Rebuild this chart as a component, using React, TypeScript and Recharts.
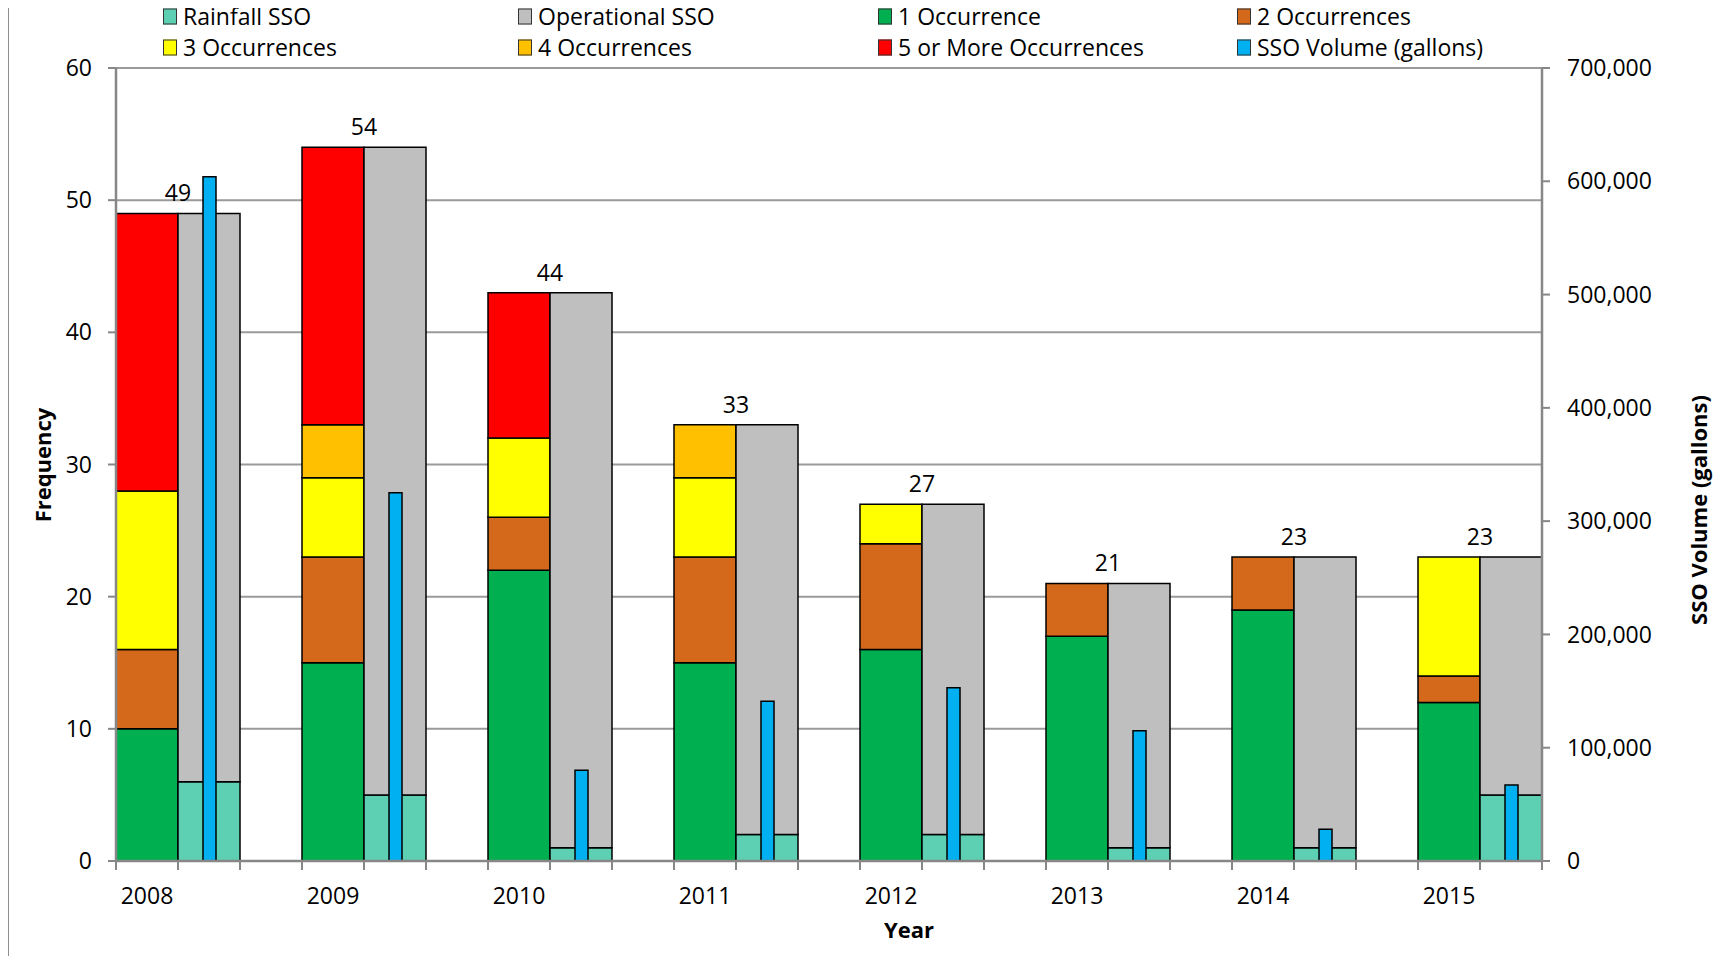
import React from 'react';
import { ComposedChart, Bar, XAxis, YAxis, CartesianGrid, LabelList } from 'recharts';

// values
const years = ['2008', '2009', '2010', '2011', '2012', '2013', '2014', '2015'];
const oneOccurrence = [10, 15, 22, 15, 16, 17, 19, 12];
const twoOccurrences = [6, 8, 4, 8, 8, 4, 4, 2];
const threeOccurrences = [12, 6, 6, 6, 3, 0, 0, 9];
const fourOccurrences = [0, 4, 0, 4, 0, 0, 0, 0];
const fivePlusOccurrences = [21, 21, 11, 0, 0, 0, 0, 0];
const rainfallSSO = [6, 5, 1, 2, 2, 1, 1, 5];
const operationalSSO = [43, 49, 42, 31, 25, 20, 22, 18];
const ssoVolume = [604000, 325000, 80000, 141000, 153000, 115000, 28000, 67000];
const totalLabels = [49, 54, 44, 33, 27, 21, 23, 23];

const leftTicks = [0, 10, 20, 30, 40, 50, 60];
const rightTicks = [0, 100000, 200000, 300000, 400000, 500000, 600000, 700000];

const COLORS = {
  rainfall: '#5DCFB2',
  operational: '#BFBFBF',
  one: '#00B050',
  two: '#D4691B',
  three: '#FFFF00',
  four: '#FFC000',
  five: '#FF0000',
  volume: '#00B0F0',
};

const legendItems = [
  { name: 'Rainfall SSO', color: COLORS.rainfall },
  { name: 'Operational SSO', color: COLORS.operational },
  { name: '1 Occurrence', color: COLORS.one },
  { name: '2 Occurrences', color: COLORS.two },
  { name: '3 Occurrences', color: COLORS.three },
  { name: '4 Occurrences', color: COLORS.four },
  { name: '5 or More Occurrences', color: COLORS.five },
  { name: 'SSO Volume (gallons)', color: COLORS.volume },
];

type Row = {
  slot: string;
  year?: string;
  one?: number;
  two?: number;
  three?: number;
  four?: number;
  five?: number;
  rainfall?: number;
  operational?: number;
  volume?: number;
  total?: number;
};

// each year takes three slots: occurrence stack, SSO stack, gap
const rows: Row[] = [];
years.forEach((year, i) => {
  rows.push({
    slot: `${year}-a`,
    year,
    one: oneOccurrence[i],
    two: twoOccurrences[i],
    three: threeOccurrences[i],
    four: fourOccurrences[i],
    five: fivePlusOccurrences[i],
  });
  rows.push({
    slot: `${year}-b`,
    rainfall: rainfallSSO[i],
    operational: operationalSSO[i],
    volume: ssoVolume[i],
    total: totalLabels[i],
  });
  if (i < years.length - 1) rows.push({ slot: `${year}-c` });
});

const FONT = "'Open Sans', sans-serif";
const W = 1729;
const H = 964;
const MARGIN = { top: 68, right: 27, bottom: 43, left: 8 };
const LEFT_AXIS_W = 108;
const RIGHT_AXIS_W = 160;
const X_AXIS_H = 60;
const PLOT_LEFT = MARGIN.left + LEFT_AXIS_W;
const PLOT_RIGHT = W - MARGIN.right - RIGHT_AXIS_W;
const PLOT_BOTTOM = H - MARGIN.bottom - X_AXIS_H;
const SLOT = (PLOT_RIGHT - PLOT_LEFT) / rows.length;
const AXIS_GREY = '#878787';
const GRID_GREY = '#9a9a9a';

const YearTick = (props: any) => {
  const { x, index } = props;
  const row = rows[index];
  const left = x - SLOT / 2;
  const isLast = index === rows.length - 1;
  return (
    <g>
      <line x1={left} x2={left} y1={PLOT_BOTTOM} y2={PLOT_BOTTOM + 9} stroke={AXIS_GREY} strokeWidth={2} />
      {isLast && (
        <line x1={x + SLOT / 2} x2={x + SLOT / 2} y1={PLOT_BOTTOM} y2={PLOT_BOTTOM + 9} stroke={AXIS_GREY} strokeWidth={2} />
      )}
      {row && row.year && (
        <text x={x} y={PLOT_BOTTOM + 34} textAnchor="middle" dominantBaseline="central" fontSize={23} fontFamily={FONT} fill="#000">
          {row.year}
        </text>
      )}
    </g>
  );
};

const TotalLabel = (props: any) => {
  const { x, y, value } = props;
  if (value == null) return null;
  return (
    <text x={x} y={y - 21} textAnchor="middle" dominantBaseline="central" fontSize={23} fontFamily={FONT} fill="#000">
      {value}
    </text>
  );
};

const legendCols = [163, 518, 878, 1237];
const legendRows = [16, 47];

const Legend = () => (
  <>
    {legendItems.map((item, i) => (
      <div
        key={item.name}
        style={{
          position: 'absolute',
          left: legendCols[i % 4],
          top: legendRows[Math.floor(i / 4)],
          transform: 'translateY(-50%)',
          display: 'flex',
          alignItems: 'center',
          fontFamily: FONT,
          fontSize: 23,
          lineHeight: 1,
          whiteSpace: 'nowrap',
          color: '#000',
        }}
      >
        <span
          style={{
            display: 'inline-block',
            width: 12,
            height: 14,
            background: item.color,
            border: '1px solid #333',
            marginRight: 6,
          }}
        />
        {item.name}
      </div>
    ))}
  </>
);

const stroke = { stroke: '#000', strokeWidth: 1.5 };

export default function App() {
  return (
    <div style={{ position: 'relative', width: W, height: H, margin: -8, background: '#fff', overflow: 'hidden' }}>
      <div style={{ position: 'absolute', left: 7, top: 0, width: 2, height: H, background: '#8f8f8f' }} />
      <ComposedChart
        width={W}
        height={H}
        data={rows}
        margin={MARGIN}
        barCategoryGap={0}
        barGap={0}
      >
        <CartesianGrid xAxisId="main" yAxisId="left" vertical={false} stroke={GRID_GREY} strokeWidth={2} />
        <XAxis
          xAxisId="main"
          dataKey="slot"
          interval={0}
          height={X_AXIS_H}
          tickLine={false}
          tick={<YearTick />}
          axisLine={{ stroke: AXIS_GREY, strokeWidth: 2.5 }}
        />
        <XAxis xAxisId="vol" dataKey="slot" hide />
        <YAxis
          yAxisId="left"
          width={LEFT_AXIS_W}
          domain={[0, 60]}
          ticks={leftTicks}
          interval={0}
          tickSize={8}
          tickMargin={16}
          tickLine={{ stroke: AXIS_GREY, strokeWidth: 2 }}
          axisLine={{ stroke: AXIS_GREY, strokeWidth: 2.5 }}
          tick={{ fill: '#000', fontSize: 23, fontFamily: FONT }}
        />
        <YAxis
          yAxisId="right"
          orientation="right"
          width={RIGHT_AXIS_W}
          domain={[0, 700000]}
          ticks={rightTicks}
          interval={0}
          tickSize={8}
          tickMargin={17}
          tickFormatter={(v: number) => v.toLocaleString('en-US')}
          tickLine={{ stroke: AXIS_GREY, strokeWidth: 2 }}
          axisLine={{ stroke: AXIS_GREY, strokeWidth: 2.5 }}
          tick={{ fill: '#000', fontSize: 23, fontFamily: FONT, textAnchor: 'start' }}
        />
        <Bar xAxisId="main" yAxisId="left" stackId="s" dataKey="one" fill={COLORS.one} {...stroke} isAnimationActive={false} />
        <Bar xAxisId="main" yAxisId="left" stackId="s" dataKey="two" fill={COLORS.two} {...stroke} isAnimationActive={false} />
        <Bar xAxisId="main" yAxisId="left" stackId="s" dataKey="three" fill={COLORS.three} {...stroke} isAnimationActive={false} />
        <Bar xAxisId="main" yAxisId="left" stackId="s" dataKey="four" fill={COLORS.four} {...stroke} isAnimationActive={false} />
        <Bar xAxisId="main" yAxisId="left" stackId="s" dataKey="five" fill={COLORS.five} {...stroke} isAnimationActive={false} />
        <Bar xAxisId="main" yAxisId="left" stackId="s" dataKey="rainfall" fill={COLORS.rainfall} {...stroke} isAnimationActive={false} />
        <Bar xAxisId="main" yAxisId="left" stackId="s" dataKey="operational" fill={COLORS.operational} {...stroke} isAnimationActive={false}>
          <LabelList dataKey="total" content={<TotalLabel />} />
        </Bar>
        <Bar xAxisId="vol" yAxisId="right" dataKey="volume" barSize={13} fill={COLORS.volume} {...stroke} isAnimationActive={false} />
      </ComposedChart>
      <Legend />
      <div
        style={{
          position: 'absolute',
          left: 42,
          top: 465,
          transform: 'translate(-50%, -50%) rotate(-90deg)',
          fontFamily: FONT,
          fontWeight: 700,
          fontSize: 22,
          whiteSpace: 'nowrap',
        }}
      >
        Frequency
      </div>
      <div
        style={{
          position: 'absolute',
          left: 1698,
          top: 510,
          transform: 'translate(-50%, -50%) rotate(-90deg)',
          fontFamily: FONT,
          fontWeight: 700,
          fontSize: 22,
          whiteSpace: 'nowrap',
        }}
      >
        SSO Volume (gallons)
      </div>
      <div
        style={{
          position: 'absolute',
          left: 909,
          top: 929,
          transform: 'translate(-50%, -50%)',
          fontFamily: FONT,
          fontWeight: 700,
          fontSize: 22,
          whiteSpace: 'nowrap',
        }}
      >
        Year
      </div>
    </div>
  );
}
